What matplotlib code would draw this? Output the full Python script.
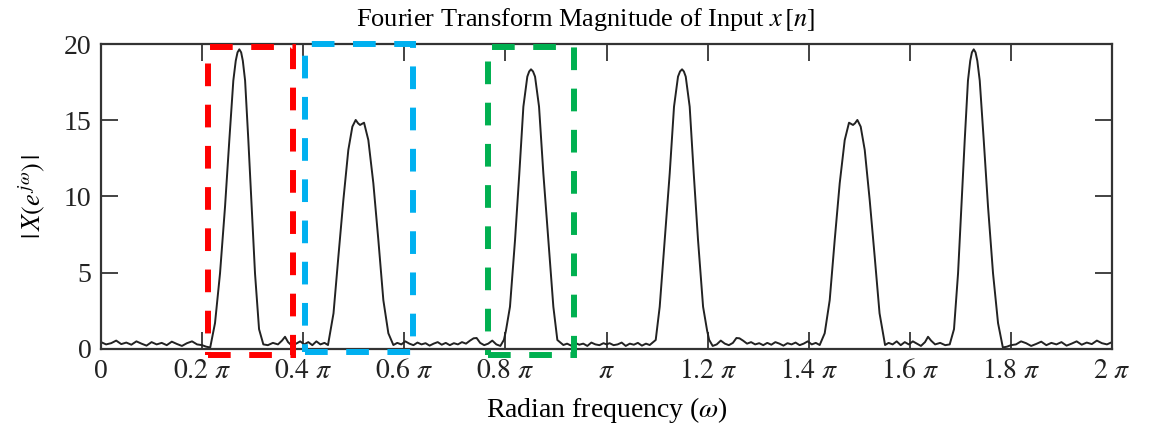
import numpy as np
import matplotlib.pyplot as plt
from matplotlib.patches import Rectangle

plt.rcParams['font.family'] = ['Liberation Serif', 'DejaVu Serif']
plt.rcParams['mathtext.fontset'] = 'stix'

# |X(e^jw)| sampled over 0..pi (frequency in units of pi)
omega_lo = [
    0.000, 0.010, 0.020, 0.030, 0.040, 0.050, 0.060, 0.070, 0.080, 0.090,
    0.100, 0.110, 0.120, 0.130, 0.140, 0.150, 0.160, 0.170, 0.180, 0.190,
    0.200, 0.208, 0.216,
    0.2255, 0.2354, 0.2453, 0.2538, 0.2617, 0.2665, 0.2700, 0.2736, 0.2772,
    0.2805, 0.2850, 0.2914, 0.2981, 0.3046, 0.3126, 0.3211,
    0.330, 0.340, 0.350, 0.358, 0.364, 0.370, 0.378, 0.386, 0.394, 0.402,
    0.410, 0.418, 0.426, 0.434, 0.442, 0.449,
    0.4599, 0.4695, 0.4794, 0.4892, 0.4972, 0.5038, 0.5085, 0.5124, 0.5203,
    0.5288, 0.5387, 0.5486, 0.5585, 0.5684, 0.5783,
    0.586, 0.594, 0.602, 0.610, 0.618, 0.626, 0.634, 0.642, 0.650, 0.658,
    0.666, 0.674, 0.682, 0.690, 0.698, 0.706, 0.714, 0.722, 0.730, 0.737,
    0.743, 0.750, 0.758, 0.766, 0.774, 0.782, 0.790, 0.797,
    0.801, 0.809, 0.819, 0.8275, 0.8355, 0.8433, 0.8470, 0.8506, 0.8546,
    0.8586, 0.8665, 0.8750, 0.8849, 0.8948, 0.9027, 0.9146,
    0.922, 0.930, 0.938, 0.946, 0.954, 0.962, 0.970, 0.978, 0.986, 0.994,
    1.000,
]
mag_lo = [
    0.45, 0.30, 0.38, 0.55, 0.32, 0.42, 0.28, 0.50, 0.35, 0.22,
    0.45, 0.30, 0.40, 0.25, 0.48, 0.33, 0.20, 0.38, 0.50, 0.30,
    0.25, 0.15, 0.10,
    1.70, 4.96, 9.33, 13.70, 17.60, 18.90, 19.45, 19.65, 19.45,
    18.90, 17.60, 13.70, 9.33, 4.96, 1.30, 0.30,
    0.25, 0.40, 0.30, 0.55, 0.80, 0.45, 0.20, 0.35, 0.50, 0.30,
    0.45, 0.25, 0.50, 0.30, 0.40, 0.26,
    2.34, 6.05, 9.77, 13.05, 14.58, 15.02, 14.80, 14.69, 14.84,
    13.70, 10.87, 7.15, 3.20, 1.03, 0.26,
    0.40, 0.30, 0.50, 0.35, 0.25, 0.42, 0.30, 0.38, 0.22, 0.35,
    0.45, 0.28, 0.40, 0.25, 0.38, 0.30, 0.45, 0.35, 0.55, 0.70,
    0.72, 0.40, 0.25, 0.35, 0.55, 0.30, 0.20, 0.60,
    1.20, 2.77, 7.15, 11.52, 15.89, 17.86, 18.20, 18.34, 18.20,
    17.86, 15.89, 11.52, 7.15, 2.77, 0.59, 0.26,
    0.35, 0.22, 0.40, 0.28, 0.35, 0.20, 0.42, 0.30, 0.25, 0.38,
    0.30,
]

# pi..2pi
omega_hi = [
    1.006, 1.014, 1.022, 1.030, 1.038, 1.046, 1.054, 1.062, 1.070, 1.078,
    1.0854, 1.0973, 1.1052, 1.1151, 1.1250, 1.1335, 1.1414, 1.1454, 1.1494,
    1.1530, 1.1567, 1.1645, 1.1725, 1.181, 1.191, 1.199,
    1.203, 1.210, 1.218, 1.226, 1.234, 1.242, 1.250, 1.257, 1.263, 1.270,
    1.278, 1.286, 1.294, 1.302, 1.310, 1.318, 1.326, 1.334, 1.342, 1.350,
    1.358, 1.366, 1.374, 1.382, 1.390, 1.398, 1.406, 1.414,
    1.4217, 1.4316, 1.4415, 1.4514, 1.4613, 1.4712, 1.4797, 1.4876, 1.4915,
    1.4962, 1.5028, 1.5108, 1.5206, 1.5305, 1.5401,
    1.551, 1.558, 1.566, 1.574, 1.582, 1.590, 1.598, 1.606, 1.614, 1.622,
    1.630, 1.636, 1.642, 1.650, 1.660, 1.670,
    1.6789, 1.6874, 1.6954, 1.7019, 1.7086, 1.7150, 1.7195, 1.7228, 1.7264,
    1.7300, 1.7335, 1.7383, 1.7462, 1.7547, 1.7646, 1.7745,
    1.784, 1.792, 1.800, 1.810, 1.820, 1.830, 1.840, 1.850, 1.860, 1.870,
    1.880, 1.890, 1.900, 1.910, 1.920, 1.930, 1.940, 1.950, 1.960, 1.970,
    1.980, 1.990, 2.000,
]
mag_hi = [
    0.38, 0.25, 0.30, 0.42, 0.20, 0.35, 0.28, 0.40, 0.22, 0.35,
    0.26, 0.59, 2.77, 7.15, 11.52, 15.89, 17.86, 18.20, 18.34,
    18.20, 17.86, 15.89, 11.52, 7.15, 2.77, 1.20,
    0.60, 0.20, 0.30, 0.55, 0.35, 0.25, 0.40, 0.72, 0.70, 0.55,
    0.35, 0.45, 0.30, 0.38, 0.25, 0.40, 0.28, 0.45, 0.35, 0.22,
    0.38, 0.30, 0.42, 0.25, 0.35, 0.50, 0.30, 0.40,
    0.26, 1.03, 3.20, 7.15, 10.87, 13.70, 14.84, 14.69, 14.80,
    15.02, 14.58, 13.05, 9.77, 6.05, 2.34,
    0.26, 0.40, 0.30, 0.50, 0.25, 0.45, 0.30, 0.50, 0.35, 0.20,
    0.45, 0.80, 0.55, 0.30, 0.40, 0.25,
    0.30, 1.30, 4.96, 9.33, 13.70, 17.60, 18.90, 19.45, 19.65,
    19.45, 18.90, 17.60, 13.70, 9.33, 4.96, 1.70,
    0.10, 0.15, 0.25, 0.30, 0.50, 0.38, 0.20, 0.33, 0.48, 0.25,
    0.40, 0.30, 0.45, 0.22, 0.35, 0.50, 0.28, 0.42, 0.32, 0.55,
    0.38, 0.30, 0.45,
]

xtick_pos = [0, 0.2, 0.4, 0.6, 0.8, 1.0, 1.2, 1.4, 1.6, 1.8, 2.0]
xtick_labels = ['0', r'$0.2\ \pi$', r'$0.4\ \pi$', r'$0.6\ \pi$', r'$0.8\ \pi$',
                r'$\pi$', r'$1.2\ \pi$', r'$1.4\ \pi$', r'$1.6\ \pi$',
                r'$1.8\ \pi$', r'$2\ \pi$']
ytick_pos = [0, 5, 10, 15, 20]

# highlighted bands: (start, end) in units of pi, y extent, colour
bands = [
    (0.211, 0.380, -0.39, 19.8, '#ff0000'),
    (0.4036, 0.6166, -0.2, 20.0, '#00b0f0'),
    (0.766, 0.9357, -0.39, 19.8, '#00b050'),
]

omega = np.array(omega_lo + omega_hi)
mag = np.array(mag_lo + mag_hi)

fig = plt.figure(figsize=(11.52, 4.26), dpi=100)
ax = fig.add_axes([0.0877, 0.1808, 0.8776, 0.7159])

ax.plot(omega, mag, color='#222222', lw=1.4)

for x0, x1, y0, y1, c in bands:
    ax.add_patch(Rectangle((x0, y0), x1 - x0, y1 - y0, fill=False, edgecolor=c,
                           lw=4.3, linestyle=(0, (3.8, 3.1)), clip_on=False,
                           zorder=5))

ax.set_xlim(0, 2)
ax.set_ylim(0, 20)
ax.set_xticks(xtick_pos)
ax.set_xticklabels(xtick_labels)
ax.set_yticks(ytick_pos)
ax.tick_params(direction='in', length=12, width=1.2, top=True, right=True,
               labelsize=20, colors='#222222', pad=7)
for s in ax.spines.values():
    s.set_color('#333333')
    s.set_linewidth(1.6)

ax.set_title(r'Fourier Transform Magnitude of Input $x\,[n]$', fontsize=19,
             pad=13, x=0.479)
ax.set_xlabel(r'Radian frequency ($\omega$)', fontsize=20, labelpad=8)
ax.set_ylabel(r'$|\,X(e^{\,j\omega})\,|$', fontsize=19, labelpad=12)

fig.savefig('out.png', dpi=100)
